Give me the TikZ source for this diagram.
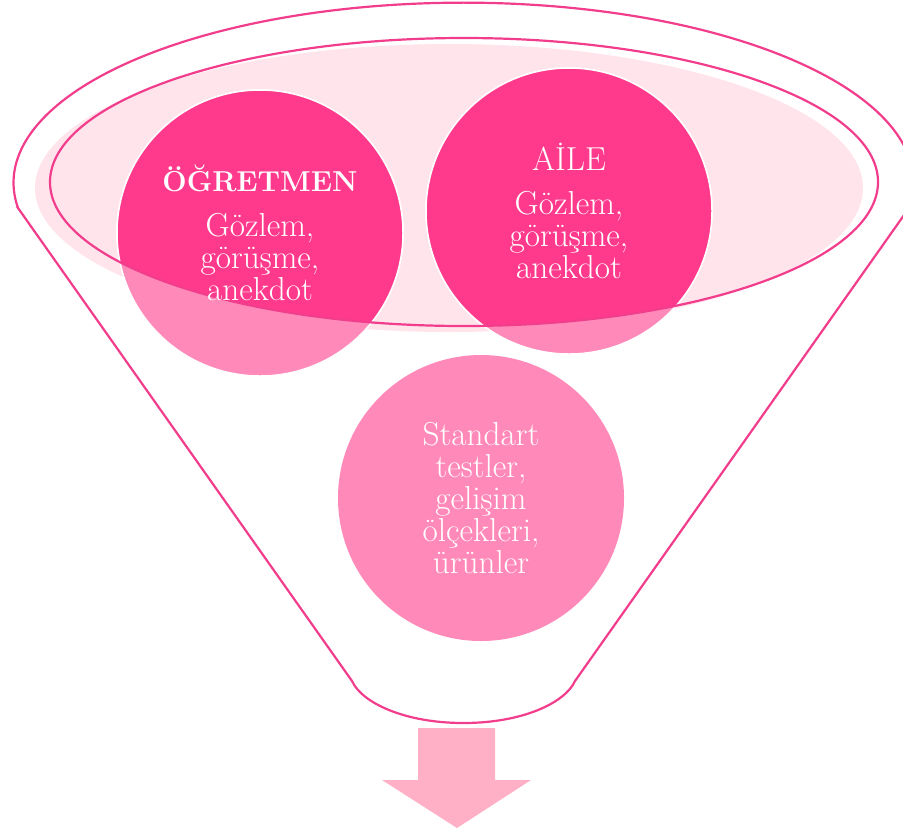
\documentclass[tikz,border=0pt]{standalone}
\usepackage{fontspec}
\usepackage{tikz}
\usetikzlibrary{positioning,calc}

\definecolor{rimpink}{HTML}{F23C8C}
\definecolor{bandpink}{HTML}{FFE4EB}
\definecolor{dotdark}{HTML}{FF3A8C}
\definecolor{dotlight}{HTML}{FF89B8}
\definecolor{arrowpink}{HTML}{FFAFC6}

\begin{document}
\begin{tikzpicture}[x=0.5pt, y=-0.5pt,
	rim/.style={draw=rimpink, line width=1.1pt},
	bubble/.style={circle, draw=white, line width=0.75pt, minimum size=143pt, inner sep=0pt},
	caption/.style={text=white, align=center, font=\fontsize{16.6}{16}\selectfont}]
	\useasboundingbox (0, 0) rectangle (903, 831);
	\clip (0, 0) rectangle (903, 831);
	\draw [rim] (18, 208) -- (352, 681) .. controls (362, 703) and (405, 723) .. (463.5, 723) .. controls (522, 723) and (565, 703) .. (575, 681) -- (909, 208) arc [start angle=8.1, end angle=-188.1, x radius=450, y radius=180] -- cycle;
	\fill [bandpink] (449, 188) ellipse [x radius=414, y radius=144];
	\node [bubble, fill=dotlight] (C1) at (260, 233) {};
	\node [bubble, fill=dotlight] (C2) at (569, 211) {};
	\node [bubble, fill=dotlight, draw=none] (C3) at (481, 498) {};
	\begin{scope}
		\clip (464, 182) ellipse [x radius=414, y radius=144];
		\node [bubble, fill=dotdark] at (C1) {};
		\node [bubble, fill=dotdark] at (C2) {};
	\end{scope}
	\draw [rim] (464, 182) ellipse [x radius=414, y radius=144];
	\node [caption] (T1) at (C1) {{\bfseries\fontsize{14.4}{16}\selectfont ÖĞRETMEN}\\[6.5pt]Gözlem,\\görüşme,\\anekdot};
	\node [caption] (T2) at (C2) {AİLE\\[6pt]Gözlem,\\görüşme,\\anekdot};
	\node [caption] (T3) at (C3) {Standart\\testler,\\gelişim\\ölçekleri,\\ürünler};
	\fill [arrowpink] (418, 728) -- (495, 728) -- (495, 780) -- (531, 780) -- (457, 828) -- (382, 780) -- (418, 780) -- cycle;
\end{tikzpicture}
\end{document}
